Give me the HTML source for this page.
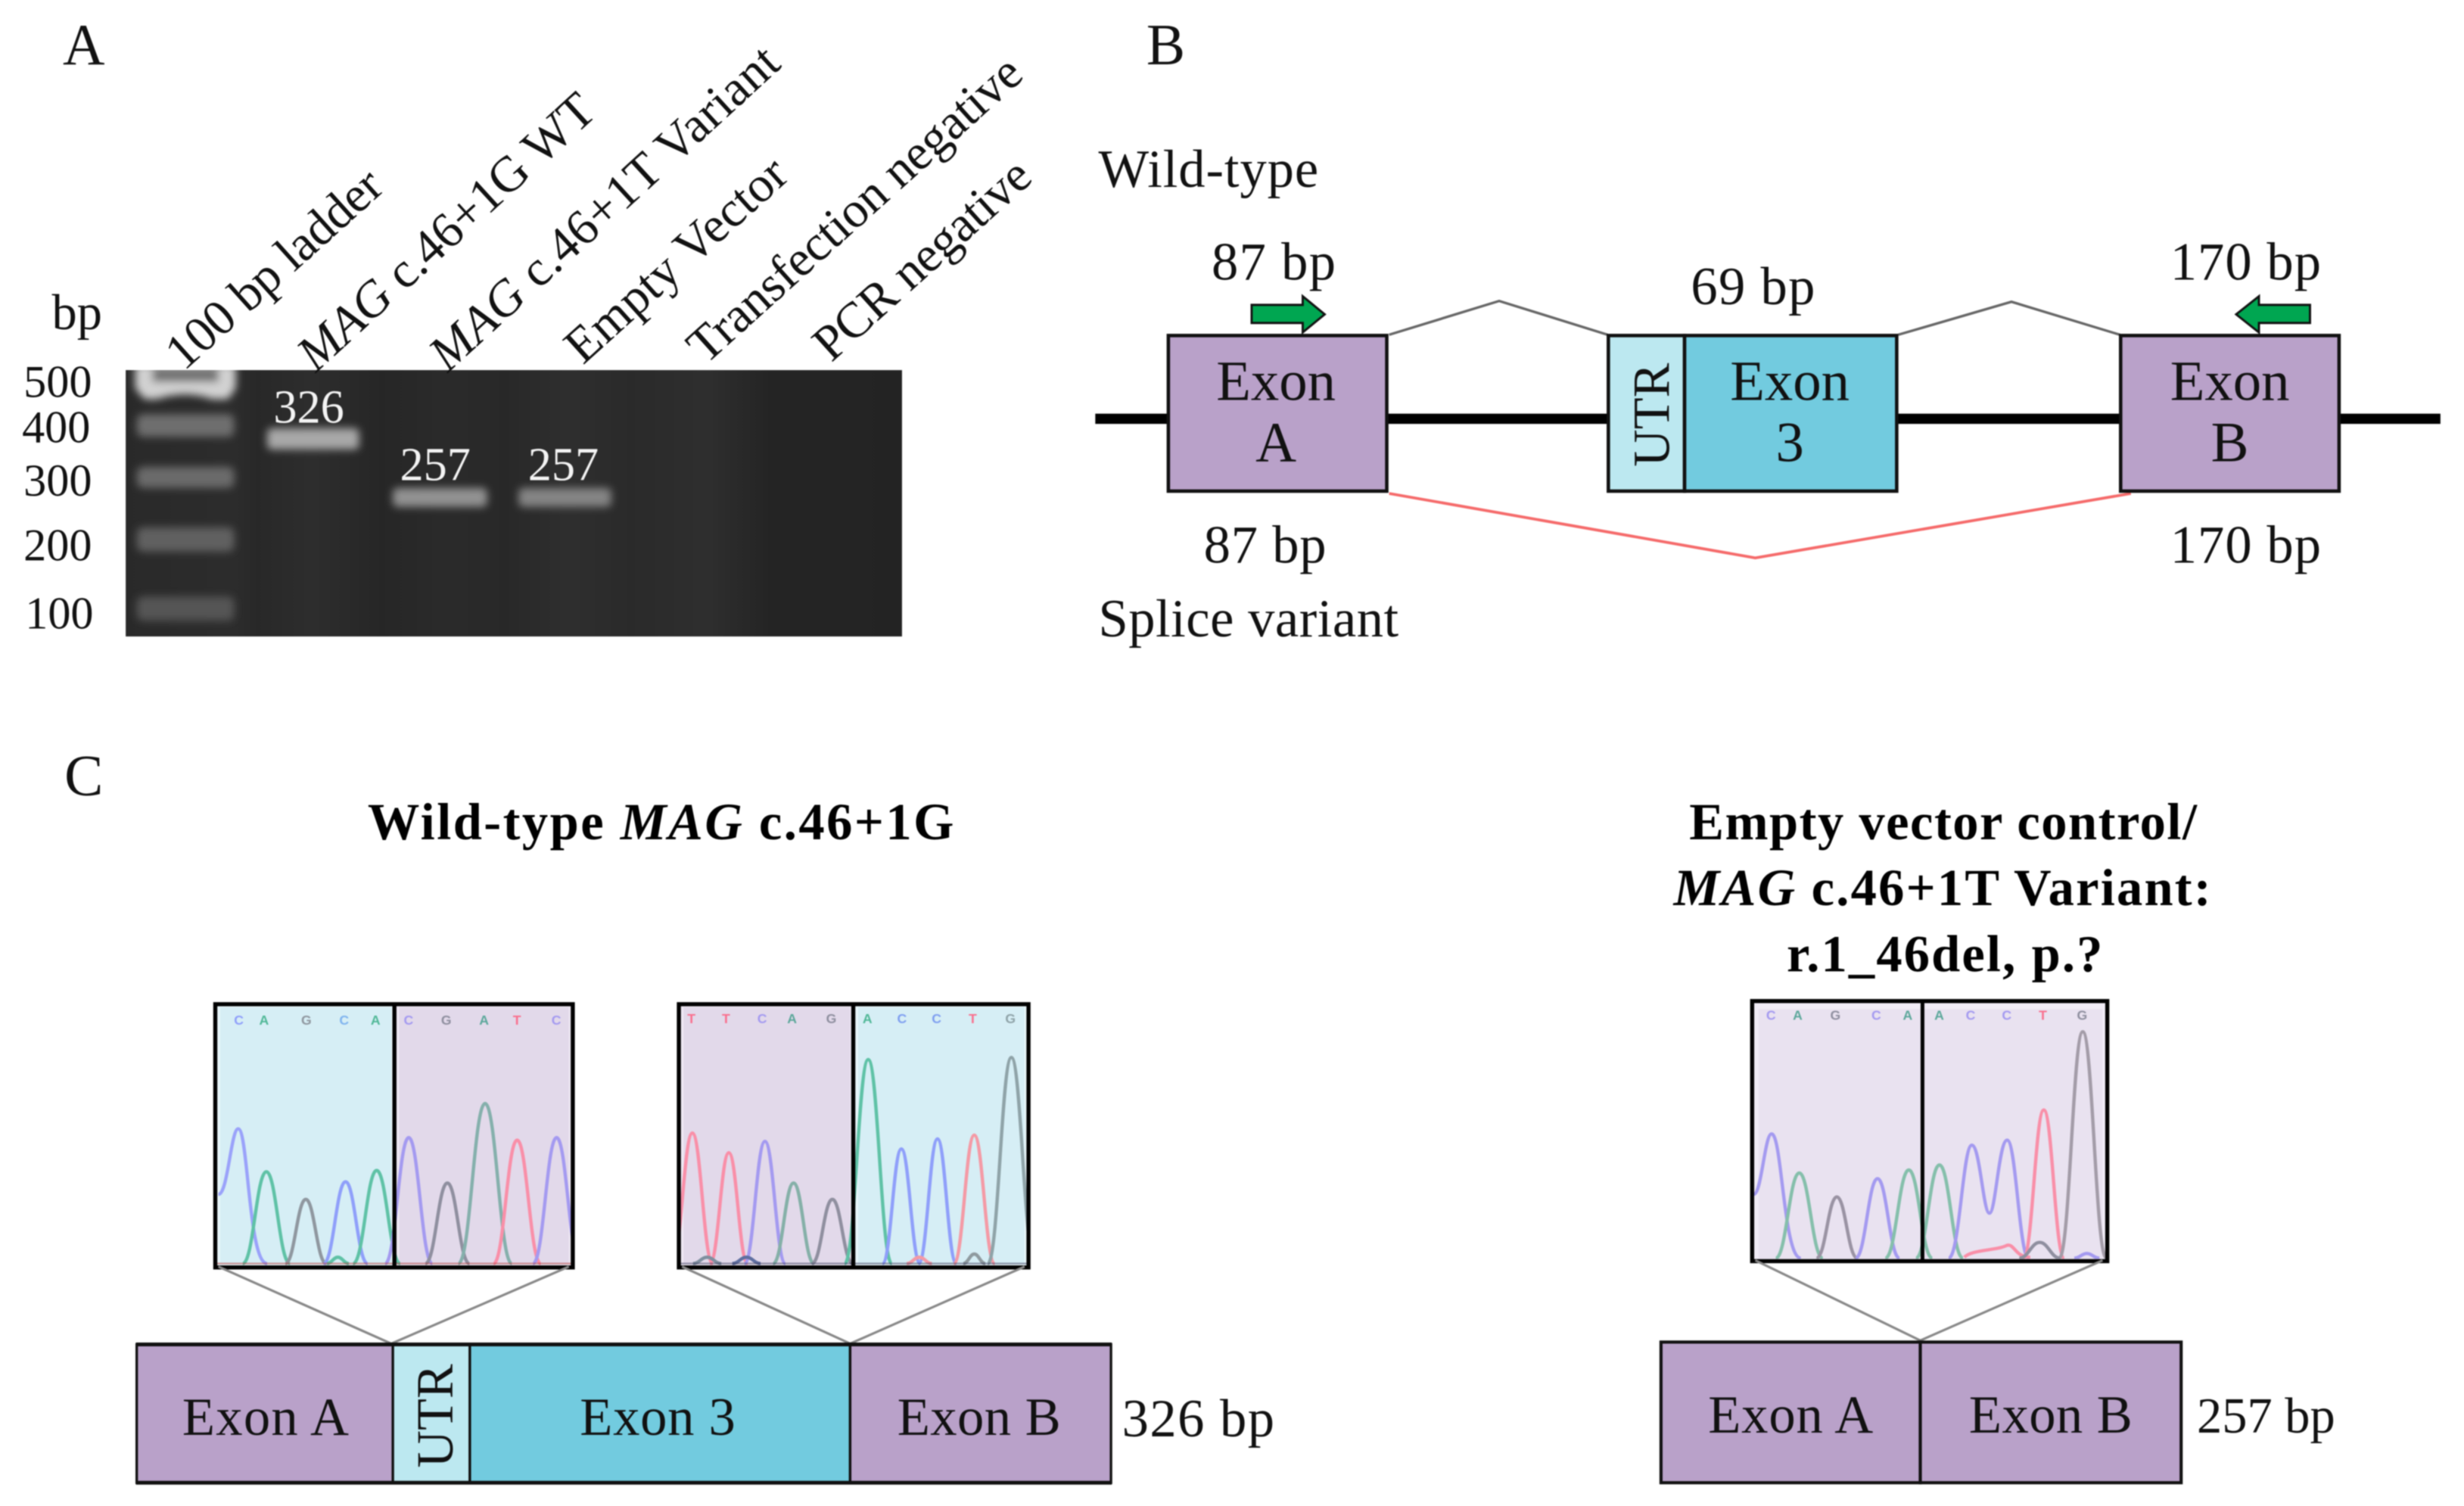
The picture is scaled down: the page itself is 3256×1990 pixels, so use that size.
<!DOCTYPE html>
<html><head><meta charset="utf-8"><style>
html,body{margin:0;padding:0;background:#fff}
svg{display:block;filter:blur(.7px)}
text{font-family:"Liberation Serif",serif;fill:#111}
.b{fill:#000;font-weight:bold}
.l{font-family:"Liberation Sans",sans-serif;font-weight:bold;font-size:8.5px;text-anchor:middle}
.m{text-anchor:middle}
.pk use,.pk path{fill:none}
.pk use{stroke-width:4.4}
.pk>path{stroke-width:2.1}
</style></head><body>
<svg width="3256" height="1990" viewBox="0 0 1568 958.3" xmlns="http://www.w3.org/2000/svg">
<defs>
<path id="p" d="M-1 0C-.55 0-.42-1 0-1S.55 0 1 0" fill="none" vector-effect="non-scaling-stroke"/>
<filter id="g1" filterUnits="userSpaceOnUse" x="60" y="215" width="534" height="210"><feGaussianBlur stdDeviation="2.6"/></filter>
<linearGradient id="lanes" gradientUnits="userSpaceOnUse" x1="80" y1="0" x2="574" y2="0">
<stop offset="0" stop-color="#292929"/><stop offset=".14" stop-color="#2c2c2c"/><stop offset=".17" stop-color="#282828"/><stop offset=".24" stop-color="#2d2d2d"/><stop offset=".33" stop-color="#262626"/><stop offset=".41" stop-color="#2a2a2a"/><stop offset=".49" stop-color="#282828"/><stop offset=".57" stop-color="#2e2e2e"/><stop offset=".65" stop-color="#2a2a2a"/><stop offset=".75" stop-color="#2e2e2e"/><stop offset=".83" stop-color="#242424"/><stop offset="1" stop-color="#232323"/>
</linearGradient>
<clipPath id="gc"><rect x="80" y="235.5" width="494" height="169.5"/></clipPath>
<clipPath id="c1"><rect x="138" y="640" width="226" height="165"/></clipPath>
<clipPath id="c2"><rect x="433" y="640" width="221" height="165"/></clipPath>
<clipPath id="c3"><rect x="1116" y="638" width="224" height="163"/></clipPath>
</defs>
<rect width="1568" height="958.3" fill="#fff"/>

<!-- Panel A -->
<text x="40" y="41" font-size="37">A</text>
<text x="729.5" y="41" font-size="37">B</text>
<text x="41" y="506" font-size="37">C</text>

<rect x="80" y="235.5" width="494" height="169.5" fill="url(#lanes)"/>
<g clip-path="url(#gc)">
<g filter="url(#g1)">
<path d="M86 232H150V247L145 254H135Q118 248 100 254H92L86 247Z" fill="#d2d2d2"/>
<rect x="97" y="234" width="42" height="9" fill="#707070"/>
<rect x="87" y="263.5" width="62" height="14.5" rx="4" fill="#6e6e6e"/>
<rect x="87" y="297" width="62" height="13.5" rx="4" fill="#6a6a6a"/>
<rect x="87" y="335.5" width="62" height="15.5" rx="4" fill="#606060"/>
<rect x="87" y="379.5" width="62" height="15.5" rx="4" fill="#555"/>
<rect x="170" y="272.5" width="58.5" height="13.5" rx="3" fill="#a8a8a8"/>
<rect x="250" y="310.5" width="60" height="12" rx="3" fill="#929292"/>
<rect x="330" y="310.5" width="59" height="12" rx="3" fill="#848484"/>
</g>
</g>
<text x="174" y="269" font-size="30" style="fill:#f4f4f4" textLength="45">326</text>
<text x="254.5" y="305.5" font-size="30" style="fill:#f4f4f4" textLength="45">257</text>
<text x="336" y="305.5" font-size="30" style="fill:#f4f4f4" textLength="45">257</text>

<text x="33" y="209.5" font-size="32">bp</text>
<g font-size="29">
<text x="15" y="252.5">500</text>
<text x="14" y="281.5">400</text>
<text x="15" y="315.5">300</text>
<text x="15" y="356.5">200</text>
<text x="16" y="400">100</text>
</g>
<g font-size="32">
<text transform="translate(117,236.5) rotate(-42)" textLength="173">100 bp ladder</text>
<text transform="translate(201,237.5) rotate(-42.5)" textLength="244"><tspan font-style="italic">MAG</tspan> c.46+1G WT</text>
<text transform="translate(285,237.5) rotate(-42.5)" textLength="289"><tspan font-style="italic">MAG</tspan> c.46+1T Variant</text>
<text transform="translate(371,232.5) rotate(-42)" textLength="178">Empty Vector</text>
<text transform="translate(449,232.5) rotate(-42)" textLength="274">Transfection negative</text>
<text transform="translate(529,231) rotate(-42)" textLength="174">PCR negative</text>
</g>

<!-- Panel B -->
<text x="699" y="119" font-size="34" textLength="140">Wild-type</text>
<text x="699" y="405" font-size="34" textLength="191">Splice variant</text>
<text x="771" y="178" font-size="34" textLength="79">87 bp</text>
<text x="1076" y="193.5" font-size="34" textLength="79">69 bp</text>
<text x="1381" y="178" font-size="34" textLength="96">170 bp</text>
<text x="766" y="358" font-size="34" textLength="78">87 bp</text>
<text x="1381" y="358" font-size="34" textLength="96">170 bp</text>

<path d="M697 266.5H1553" stroke="#000" stroke-width="6.5"/>
<path d="M884 213L954 191.5L1023 213" fill="none" stroke="#666" stroke-width="1.6"/>
<path d="M1208 213L1280 192L1349 213" fill="none" stroke="#666" stroke-width="1.6"/>
<path d="M884 314L1117 355L1356 314" fill="none" stroke="#f56a6a" stroke-width="1.8"/>

<rect x="743.5" y="213.5" width="139" height="99" fill="#b9a1c9" stroke="#111" stroke-width="2.2"/>
<rect x="1023.5" y="213.5" width="48.5" height="99" fill="#bce8f0" stroke="#111" stroke-width="2.2"/>
<rect x="1072" y="213.5" width="135" height="99" fill="#72cbdf" stroke="#111" stroke-width="2.2"/>
<rect x="1349.5" y="213.5" width="139" height="99" fill="#b9a1c9" stroke="#111" stroke-width="2.2"/>

<path d="M796.5 194H829V188.5L843 200L829 211.5V205.5H796.5Z" fill="#00a651" stroke="#111" stroke-width="1.4"/>
<path d="M1470 194H1437.5V188.5L1423 200L1437.5 211.5V205.5H1470Z" fill="#00a651" stroke="#111" stroke-width="1.4"/>

<g font-size="36">
<text class="m" x="812" y="254.5">Exon</text>
<text class="m" x="812" y="293.5">A</text>
<text class="m" x="1139" y="254.5">Exon</text>
<text class="m" x="1139" y="293.5">3</text>
<text class="m" x="1419" y="254.5">Exon</text>
<text class="m" x="1419" y="293.5">B</text>
</g>
<text class="m" transform="translate(1062,264) rotate(-90)" font-size="33">UTR</text>

<!-- Panel C titles -->
<text class="b" x="234" y="534" font-size="33" textLength="373">Wild-type <tspan font-style="italic">MAG</tspan> c.46+1G</text>
<text class="b" x="1075" y="534" font-size="33" textLength="323">Empty vector control/</text>
<text class="b" x="1065" y="576" font-size="33" textLength="342"><tspan font-style="italic">MAG</tspan> c.46+1T Variant:</text>
<text class="b" x="1137" y="618" font-size="33" textLength="201">r.1_46del, p.?</text>

<!-- Chromatogram 1 -->
<rect x="137" y="639" width="114" height="167" fill="#eaf7fb"/>
<rect x="140" y="641" width="109" height="163" fill="#d6eef5"/>
<rect x="251" y="639" width="114" height="167" fill="#efe9f4"/>
<rect x="254" y="641" width="108" height="163" fill="#e2d9ea"/>
<g class="pk" clip-path="url(#c1)">
<path d="M139 760C145 760 147 718.3 151.6 718.3C158 718.3 158 804 170 804" stroke="#9aa2fa"/>
<use href="#p" transform="translate(169.5,804) scale(15,58.4)" stroke="#5fc2a6"/>
<use href="#p" transform="translate(194.6,804) scale(13,40.8)" stroke="#8f979f"/>
<use href="#p" transform="translate(219.9,804) scale(14,52)" stroke="#8f9ffa"/>
<use href="#p" transform="translate(239.7,804) scale(15,59.2)" stroke="#5fc2a6"/>
<use href="#p" transform="translate(260.1,804) scale(15,80.1)" stroke="#a49af0"/>
<use href="#p" transform="translate(284.7,804) scale(14,51.2)" stroke="#8f8f9f"/>
<use href="#p" transform="translate(308.7,804) scale(17,101.8)" stroke="#85b0ac"/>
<use href="#p" transform="translate(329.1,804) scale(15,78.5)" stroke="#f98fa8"/>
<use href="#p" transform="translate(354.2,804) scale(15,80.1)" stroke="#a49af0"/>
<use href="#p" transform="translate(215,804) scale(7,4)" stroke="#5fc2a6"/>
</g>
<path d="M138 804H364" stroke="#a33" stroke-width="1" opacity=".5"/>
<rect x="137" y="639" width="227.5" height="167.5" fill="none" stroke="#000" stroke-width="2.6"/>
<path d="M251 639V806" stroke="#000" stroke-width="2.6"/>
<text class="l" x="152" y="652" style="fill:#8f9ffa">C</text><text class="l" x="168" y="652" style="fill:#4fb796">A</text><text class="l" x="195" y="652" style="fill:#8f979f">G</text><text class="l" x="219" y="652" style="fill:#7fb3ee">C</text><text class="l" x="239" y="652" style="fill:#4fb796">A</text><text class="l" x="260" y="652" style="fill:#a49af0">C</text><text class="l" x="284" y="652" style="fill:#8f8f9f">G</text><text class="l" x="308" y="652" style="fill:#5ba79a">A</text><text class="l" x="329" y="652" style="fill:#f9708e">T</text><text class="l" x="354" y="652" style="fill:#a49af0">C</text>

<!-- Chromatogram 2 -->
<rect x="432" y="639" width="111" height="167" fill="#efe9f4"/>
<rect x="435" y="641" width="106" height="163" fill="#e2d9ea"/>
<rect x="543" y="639" width="111" height="167" fill="#eaf7fb"/>
<rect x="546" y="641" width="106" height="163" fill="#d6eef5"/>
<g class="pk" clip-path="url(#c2)">
<use href="#p" transform="translate(440.6,804) scale(13,83)" stroke="#f98fa8"/>
<use href="#p" transform="translate(463.8,804) scale(12,70.5)" stroke="#f98fa8"/>
<use href="#p" transform="translate(486.8,804) scale(13,77.7)" stroke="#a49af0"/>
<use href="#p" transform="translate(505,804) scale(13,51.2)" stroke="#85b0a8"/>
<use href="#p" transform="translate(529.7,804) scale(13,40.8)" stroke="#8f8f9f"/>
<use href="#p" transform="translate(552.5,804) scale(15,129.8)" stroke="#5fc2a6"/>
<use href="#p" transform="translate(573.6,804) scale(12,72.9)" stroke="#8f9ffa"/>
<use href="#p" transform="translate(596.6,804) scale(12,79.3)" stroke="#8f9ffa"/>
<use href="#p" transform="translate(620,804) scale(13,81.7)" stroke="#f49aa5"/>
<use href="#p" transform="translate(643.6,804) scale(15,131.1)" stroke="#8fa3a8"/>
<use href="#p" transform="translate(585,804) scale(8,4)" stroke="#f49aa5"/>
<use href="#p" transform="translate(620,804) scale(7,6)" stroke="#8f9a9f"/>
<use href="#p" transform="translate(450,804) scale(9,4)" stroke="#7f8f9f"/>
<use href="#p" transform="translate(475,804) scale(9,4)" stroke="#5f6fa0"/>
</g>
<path d="M433 804H654" stroke="#335" stroke-width="1" opacity=".5"/>
<rect x="432" y="639" width="222.5" height="167.5" fill="none" stroke="#000" stroke-width="2.6"/>
<path d="M543 639V806" stroke="#000" stroke-width="2.6"/>
<text class="l" x="440" y="651" style="fill:#f9708e">T</text><text class="l" x="462" y="651" style="fill:#f9708e">T</text><text class="l" x="485" y="651" style="fill:#a49af0">C</text><text class="l" x="504" y="651" style="fill:#5ba79a">A</text><text class="l" x="529" y="651" style="fill:#8f8f9f">G</text><text class="l" x="552" y="651" style="fill:#4fb796">A</text><text class="l" x="574" y="651" style="fill:#7f9ff0">C</text><text class="l" x="596" y="651" style="fill:#7f9ff0">C</text><text class="l" x="619" y="651" style="fill:#f9708e">T</text><text class="l" x="643" y="651" style="fill:#8fa3a8">G</text>

<!-- Chromatogram 3 -->
<rect x="1115" y="637" width="226" height="166" fill="#f1ecf6"/>
<rect x="1119" y="642" width="219" height="159" fill="#e9e2f0"/>
<g class="pk" clip-path="url(#c3)">
<path d="M1116 760C1121 760 1123 721.5 1127.4 721.5C1134 721.5 1135 800.6 1146 800.6" stroke="#a49af0"/>
<use href="#p" transform="translate(1145,800.6) scale(15,54.2)" stroke="#85bfab"/>
<use href="#p" transform="translate(1168.9,800.6) scale(13,39)" stroke="#9a93a3"/>
<use href="#p" transform="translate(1194.8,800.6) scale(14,50.6)" stroke="#a49af0"/>
<use href="#p" transform="translate(1214.7,800.6) scale(15,56.1)" stroke="#85bfab"/>
<use href="#p" transform="translate(1234.2,800.6) scale(15,59.3)" stroke="#85bfab"/>
<path d="M1240 800.6C1247 800.6 1249 728.7 1254.8 728.7C1260 728.7 1262 772 1266 772C1270 772 1272 725.5 1277.3 725.5C1283 725.5 1285 800.6 1291 800.6" stroke="#a49af0"/>
<use href="#p" transform="translate(1300.6,800.6) scale(13,94.3)" stroke="#f98fa8"/>
<use href="#p" transform="translate(1325.4,800.6) scale(15,144.1)" stroke="#a39ca8"/>
<path d="M1250 800C1255 795 1270 796 1277 792.5C1282 791 1282 800 1292 800" stroke="#f98fa8"/>
<use href="#p" transform="translate(1298,800.6) scale(13,10)" stroke="#8f8f9f"/>
<use href="#p" transform="translate(1328,800.6) scale(8,3)" stroke="#a49af0"/>
</g>
<rect x="1115" y="637" width="226" height="165.5" fill="none" stroke="#000" stroke-width="2.6"/>
<path d="M1223.4 637V802" stroke="#000" stroke-width="2.4"/>
<text class="l" x="1127" y="649" style="fill:#a49af0">C</text><text class="l" x="1144" y="649" style="fill:#5ba79a">A</text><text class="l" x="1168" y="649" style="fill:#8f8f9f">G</text><text class="l" x="1194" y="649" style="fill:#a49af0">C</text><text class="l" x="1214" y="649" style="fill:#5ba79a">A</text><text class="l" x="1234" y="649" style="fill:#5ba79a">A</text><text class="l" x="1254" y="649" style="fill:#a49af0">C</text><text class="l" x="1277" y="649" style="fill:#a49af0">C</text><text class="l" x="1300" y="649" style="fill:#f9708e">T</text><text class="l" x="1325" y="649" style="fill:#8f8f9f">G</text>

<!-- Connectors C -->
<g fill="none" stroke="#888" stroke-width="1.5">
<path d="M139 806L249 855L362 806"/>
<path d="M434 806L541 855L652 806"/>
<path d="M1117 802L1222 853L1338 802"/>
</g>

<!-- Bars C -->
<rect x="87" y="855.5" width="163" height="88" fill="#b9a1c9" stroke="#111" stroke-width="1.6"/>
<rect x="250" y="855.5" width="49" height="88" fill="#bce8f0" stroke="#111" stroke-width="1.6"/>
<rect x="299" y="855.5" width="242" height="88" fill="#72cbdf" stroke="#111" stroke-width="1.6"/>
<rect x="541" y="855.5" width="166" height="88" fill="#b9a1c9" stroke="#111" stroke-width="1.6"/>
<path d="M86.5 855.5H707.5M86.5 943.5H707.5" stroke="#111" stroke-width="2.4"/>
<rect x="1057" y="854" width="165" height="89.5" fill="#b9a1c9" stroke="#111" stroke-width="2"/>
<rect x="1222" y="854" width="166" height="89.5" fill="#b9a1c9" stroke="#111" stroke-width="2"/>

<g font-size="34">
<text x="116" y="913" textLength="106">Exon A</text>
<text x="369" y="913" textLength="99">Exon 3</text>
<text x="571" y="913" textLength="104">Exon B</text>
<text x="714" y="914" textLength="97">326 bp</text>
<text x="1087" y="911.5" textLength="105">Exon A</text>
<text x="1253" y="911.5" textLength="104">Exon B</text>
</g>
<text x="1398" y="911.5" font-size="32" textLength="88">257 bp</text>
<text class="m" transform="translate(288,901) rotate(-90)" font-size="33">UTR</text>
</svg>
</body></html>
